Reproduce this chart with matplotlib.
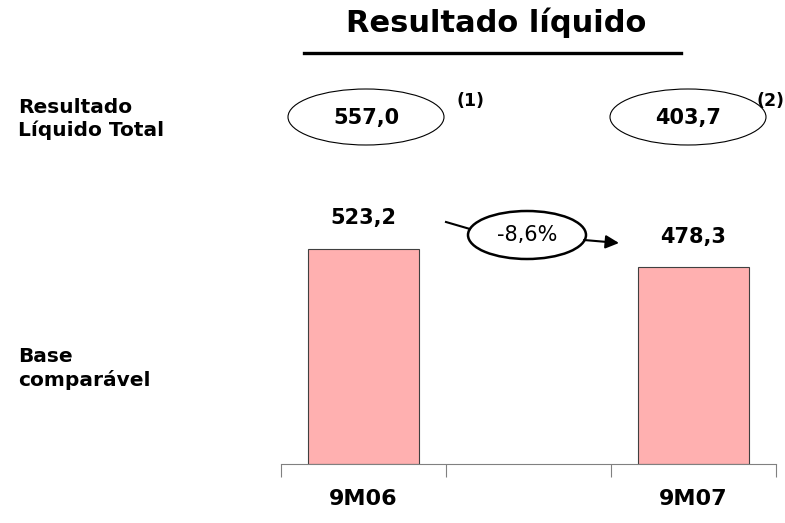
import numpy as np
import matplotlib
matplotlib.use("Agg")
import matplotlib.pyplot as plt
from matplotlib.patches import Ellipse

# data
categories = ['9M06', '', '9M07']
base_values = [523.2, None, 478.3]
base_labels = ['523,2', '', '478,3']
total_labels = ['557,0', '', '403,7']
notes = ['(1)', '', '(2)']
change_label = '-8,6%'

W, H = 785, 523
plt.rcParams['font.family'] = ['DejaVu Sans']
fig = plt.figure(figsize=(W / 100, H / 100), dpi=100)

# main bar axes
ax = fig.add_axes([281 / W, 59 / H, (776 - 281) / W, 411 / H])
x = np.arange(len(categories))
vals = [v if v is not None else 0 for v in base_values]
bars = ax.bar(x, vals, width=0.67, color='#ffb0b0', edgecolor='#404040', linewidth=0.8)
bars[1].set_visible(False)
ax.set_xlim(-0.5, 2.5)
ax.set_ylim(0, 1000)
for s in ['top', 'right', 'left']:
    ax.spines[s].set_visible(False)
ax.spines['bottom'].set_color('#808080')
ax.set_yticks([])
ax.set_xticks([-0.5, 0.5, 1.5, 2.5])
ax.set_xticklabels([])
ax.tick_params(axis='x', length=9, color='#808080', direction='out')
for xi, c in zip(x, categories):
    ax.annotate(c, xy=(xi, 0), xytext=(0, -25), textcoords='offset points',
                ha='center', va='center', fontsize=16, fontweight='bold')
for xi, v, lab in zip(x, base_values, base_labels):
    if v is None:
        continue
    ax.annotate(lab, xy=(xi, v), xytext=(0, 22), textcoords='offset points',
                ha='center', va='center', fontsize=15, fontweight='bold')

# overlay in pixel coordinates for decorations
ov = fig.add_axes([0, 0, 1, 1], facecolor='none')
ov.set_xlim(0, W)
ov.set_ylim(H, 0)
ov.axis('off')

ov.text(496, 23, 'Resultado líquido', ha='center', va='center', fontsize=22, fontweight='bold')
ov.plot([304, 681], [53, 53], color='black', lw=2.4)

ov.text(18, 119, 'Resultado\nLíquido Total', ha='left', va='center', fontsize=14.5,
        fontweight='bold', linespacing=1.25)
ov.text(18, 368, 'Base\ncomparável', ha='left', va='center', fontsize=14.5,
        fontweight='bold', linespacing=1.25)

ex = [366, None, 688]
nx = [471, None, 771]
for cx, nxx, lab, note in zip(ex, nx, total_labels, notes):
    if cx is None:
        continue
    ov.add_patch(Ellipse((cx, 117), 156, 56, fill=False, ec='black', lw=0.8))
    ov.text(cx, 118, lab, ha='center', va='center', fontsize=15, fontweight='bold')
    ov.text(nxx, 101, note, ha='center', va='center', fontsize=12.5, fontweight='bold')

ov.add_patch(Ellipse((527, 235), 118, 48, fill=False, ec='black', lw=1.8))
ov.text(527, 235, change_label, ha='center', va='center', fontsize=15)
ov.plot([446, 470], [222, 229], color='black', lw=1.5)
ov.annotate('', xy=(619, 243), xytext=(584, 240),
            arrowprops=dict(arrowstyle='-|>', color='black', lw=1.5, mutation_scale=20,
                            shrinkA=0, shrinkB=0))

fig.savefig('out.png', dpi=100)
